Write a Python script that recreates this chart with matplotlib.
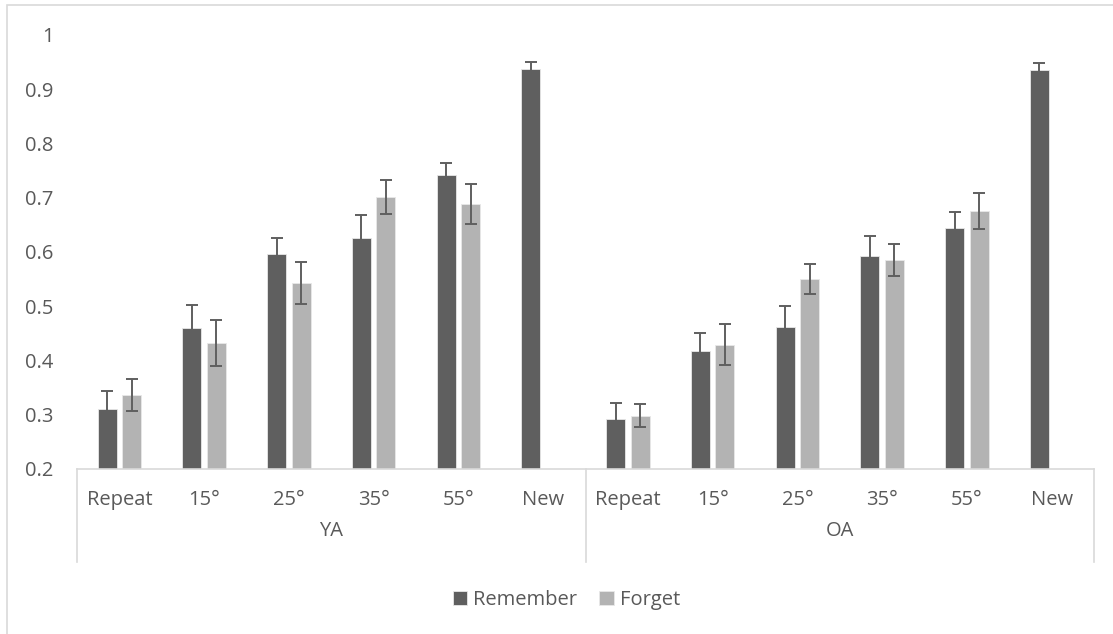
import numpy as np
import matplotlib.pyplot as plt
from matplotlib.patches import Rectangle
from matplotlib.transforms import blended_transform_factory

plt.rcParams['font.family'] = ['Open Sans', 'DejaVu Sans']

groups = ["YA", "OA"]
conditions = ["Repeat", "15°", "25°", "35°", "55°", "New"]

# mean proportions per condition (YA first, then OA); New has no Forget bar
remember = [0.310, 0.459, 0.596, 0.626, 0.742, 0.937,
            0.293, 0.418, 0.461, 0.593, 0.644, 0.936]
forget = [0.336, 0.432, 0.543, 0.701, 0.688, np.nan,
          0.298, 0.429, 0.550, 0.585, 0.676, np.nan]
remember_err = [0.033, 0.043, 0.030, 0.043, 0.022, 0.014,
                0.029, 0.033, 0.039, 0.036, 0.030, 0.013]
forget_err = [0.029, 0.043, 0.038, 0.031, 0.037, np.nan,
              0.021, 0.038, 0.027, 0.030, 0.033, np.nan]

dark = "#5f5f5f"
light = "#b3b3b3"
text_col = "#595959"
line_col = "#d9d9d9"
fs = 14.5

fig = plt.figure(figsize=(11.13, 6.34), dpi=100)
ax = fig.add_axes([0.0692, 0.2603, 0.9138, 0.6845])

x = np.arange(len(remember))
w = 0.224
off = 0.144

ax.bar(x - off, remember, w, color=dark, edgecolor="#e8e8e8",
       linewidth=0.6, label="Remember", zorder=2)
ax.bar(x + off, forget, w, color=light, edgecolor="#e8e8e8",
       linewidth=0.6, label="Forget", zorder=2)
ax.errorbar(x - off, remember, yerr=remember_err, fmt="none", ecolor=dark,
            elinewidth=1.4, capsize=4.3, capthick=1.4, zorder=3)
ax.errorbar(x + off, forget, yerr=forget_err, fmt="none", ecolor=dark,
            elinewidth=1.4, capsize=4.3, capthick=1.4, zorder=3)

ax.set_xlim(-0.5, len(x) - 0.5)
ax.set_ylim(0.2, 1.0)
yt = np.round(np.arange(0.2, 1.01, 0.1), 1)
ax.set_yticks(yt)
ax.set_yticklabels(["1" if v == 1 else f"{v:.1f}" for v in yt])
ax.tick_params(axis="y", length=0, pad=17, labelsize=fs, labelcolor=text_col)
ax.set_xticks([])

for s in ["top", "right", "left"]:
    ax.spines[s].set_visible(False)
ax.spines["bottom"].set_color(line_col)
ax.spines["bottom"].set_linewidth(1.2)

# two-level category axis
tr = blended_transform_factory(ax.transData, ax.transAxes)
labels = conditions * len(groups)
for i, lab in enumerate(labels):
    ax.text(i, -0.0714, lab, transform=tr, ha="center", va="center",
            fontsize=fs, color=text_col)
n = len(conditions)
for g, name in enumerate(groups):
    ax.text(g * n + (n - 1) / 2, -0.143, name, transform=tr, ha="center",
            va="center", fontsize=fs, color=text_col)
for xs in [-0.5, n - 0.5, 2 * n - 0.5]:
    ax.plot([xs, xs], [0, -0.214], transform=tr, color=line_col, lw=1.2,
            clip_on=False)

fig.legend(loc="center", bbox_to_anchor=(0.509, 0.054), ncol=2,
           frameon=False, fontsize=fs, handlelength=0.7, handleheight=0.7,
           handletextpad=0.3, columnspacing=1.1, labelcolor=text_col)

# chart border
fig.patches.append(Rectangle((0.0063, -0.05), 1.1, 1.042, transform=fig.transFigure,
                             fill=False, edgecolor=line_col, lw=1.2))

fig.savefig("out.png", dpi=100, facecolor="white")
